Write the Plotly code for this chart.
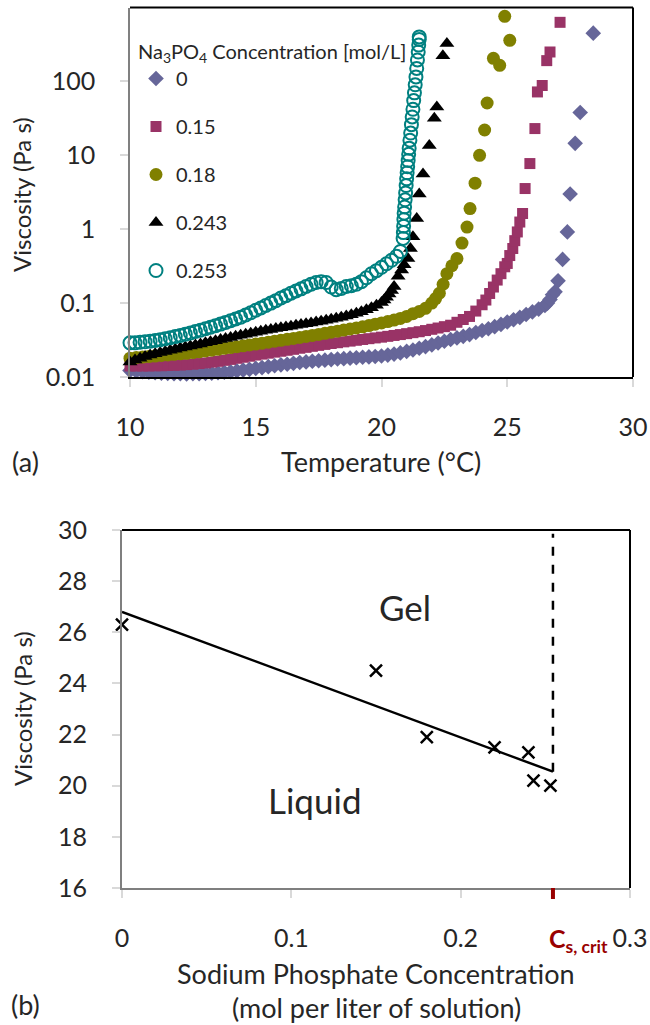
import plotly.graph_objects as go

# ---------------- Panel (a) data: viscosity vs temperature ----------------
conc_labels = ["0", "0.15", "0.18", "0.243", "0.253"]

t_0 = [10.0, 10.25, 10.5, 10.75, 11.0, 11.25, 11.5, 11.75, 12.0, 12.25, 12.5, 12.75,
       13.0, 13.25, 13.5, 13.75, 14.0, 14.25, 14.5, 14.75, 15.0, 15.25, 15.5, 15.75,
       16.0, 16.25, 16.5, 16.75, 17.0, 17.25, 17.5, 17.75, 18.0, 18.25, 18.5, 18.75,
       19.0, 19.25, 19.5, 19.75, 20.0, 20.25, 20.5, 20.75, 21.0, 21.25, 21.5, 21.75,
       22.0, 22.25, 22.5, 22.75, 23.0, 23.25, 23.5, 23.75, 24.0, 24.25, 24.5, 24.75,
       25.0, 25.25, 25.5, 25.75, 26.0, 26.25, 26.5, 26.6, 26.7, 26.8,
       26.9, 27.02, 27.2, 27.39, 27.5, 27.7, 27.9, 28.42]
v_0 = [0.0122, 0.0120, 0.0118, 0.0116, 0.0114, 0.0113, 0.0112, 0.0111, 0.0111, 0.0110,
       0.0111, 0.0111, 0.0112, 0.0113, 0.0114, 0.0116, 0.0118, 0.0121, 0.0124, 0.0127,
       0.0131, 0.0134, 0.0138, 0.0142, 0.0146, 0.0149, 0.0153, 0.0157, 0.0160, 0.0163,
       0.0166, 0.0169, 0.0172, 0.0175, 0.0177, 0.0180, 0.0182, 0.0185, 0.0187, 0.0189,
       0.0192, 0.0198, 0.0204, 0.0212, 0.0222, 0.0232, 0.0245, 0.0258, 0.0272, 0.0288,
       0.0305, 0.0322, 0.0338, 0.0355, 0.0375, 0.0400, 0.0425, 0.0450, 0.0480, 0.0515,
       0.0555, 0.0595, 0.0640, 0.0700, 0.0760, 0.0830, 0.0930, 0.1000, 0.1120, 0.1300,
       0.142, 0.200, 0.390, 0.920, 3.0, 14.5, 38.0, 450.0]

t_015 = [10.0, 10.25, 10.5, 10.75, 11.0, 11.25, 11.5, 11.75, 12.0, 12.25, 12.5, 12.75,
         13.0, 13.25, 13.5, 13.75, 14.0, 14.25, 14.5, 14.75, 15.0, 15.25, 15.5, 15.75,
         16.0, 16.25, 16.5, 16.75, 17.0, 17.25, 17.5, 17.75, 18.0, 18.25, 18.5, 18.75,
         19.0, 19.25, 19.5, 19.75, 20.0, 20.25, 20.5, 20.75, 21.0, 21.25, 21.5, 21.75,
         22.0, 22.25, 22.5, 22.75, 23.0, 23.25, 23.5, 23.75, 24.0, 24.15, 24.3, 24.45,
         24.6, 24.75, 24.9, 25.0, 25.1, 25.22, 25.3, 25.4, 25.5, 25.61, 25.71, 25.9,
         26.1, 26.2, 26.39, 26.57, 26.7, 27.1]
v_015 = [0.0141, 0.0141, 0.0141, 0.0141, 0.0142, 0.0142, 0.0143, 0.0144, 0.0145, 0.0147,
         0.0149, 0.0152, 0.0155, 0.0159, 0.0163, 0.0168, 0.0173, 0.0179, 0.0185, 0.0191,
         0.0198, 0.0204, 0.0210, 0.0217, 0.0223, 0.0230, 0.0237, 0.0245, 0.0252, 0.0260,
         0.0268, 0.0276, 0.0284, 0.0291, 0.0299, 0.0306, 0.0314, 0.0322, 0.0330, 0.0338,
         0.0346, 0.0355, 0.0365, 0.0375, 0.0386, 0.0398, 0.0410, 0.0425, 0.0442, 0.0460,
         0.0480, 0.0502, 0.0550, 0.0600, 0.0660, 0.0780, 0.0950, 0.110, 0.135, 0.165,
         0.205, 0.250, 0.310, 0.344, 0.440, 0.548, 0.700, 0.918, 1.25, 1.63, 3.55, 7.73,
         23.0, 72.0, 88.0, 191.0, 250.0, 630.0]

t_018 = [10.0, 10.25, 10.5, 10.75, 11.0, 11.25, 11.5, 11.75, 12.0, 12.25, 12.5, 12.75,
         13.0, 13.25, 13.5, 13.75, 14.0, 14.25, 14.5, 14.75, 15.0, 15.25, 15.5, 15.75,
         16.0, 16.25, 16.5, 16.75, 17.0, 17.25, 17.5, 17.75, 18.0, 18.25, 18.5, 18.75,
         19.0, 19.25, 19.5, 19.75, 20.0, 20.25, 20.5, 20.75, 21.0, 21.25, 21.5, 21.75,
         22.0, 22.15, 22.3, 22.45, 22.6, 22.8, 23.0, 23.2, 23.4, 23.52, 23.72, 23.9,
         24.1, 24.2, 24.45, 24.7, 24.9, 25.1]
v_018 = [0.0180, 0.0183, 0.0186, 0.0189, 0.0192, 0.0196, 0.0199, 0.0203, 0.0206, 0.0209,
         0.0214, 0.0219, 0.0225, 0.0231, 0.0237, 0.0244, 0.0250, 0.0257, 0.0264, 0.0271,
         0.0279, 0.0287, 0.0296, 0.0305, 0.0314, 0.0323, 0.0333, 0.0343, 0.0354, 0.0365,
         0.0377, 0.0390, 0.0403, 0.0417, 0.0431, 0.0446, 0.0461, 0.0478, 0.0497, 0.0518,
         0.0540, 0.0563, 0.0590, 0.0620, 0.0660, 0.0720, 0.0770, 0.0850, 0.100, 0.115,
         0.136, 0.180, 0.250, 0.320, 0.400, 0.650, 1.07, 1.9, 4.2, 10.0, 22.0, 51.0,
         205.0, 165.0, 760.0, 360.0]

t_0243 = [10.0, 10.2, 10.4, 10.6, 10.8, 11.0, 11.2, 11.4, 11.6, 11.8, 12.0, 12.2, 12.4,
          12.6, 12.8, 13.0, 13.2, 13.4, 13.6, 13.8, 14.0, 14.2, 14.4, 14.6, 14.8, 15.0,
          15.2, 15.4, 15.6, 15.8, 16.0, 16.2, 16.4, 16.6, 16.8, 17.0, 17.2, 17.4, 17.6,
          17.8, 18.0, 18.2, 18.4, 18.6, 18.8, 19.0, 19.2, 19.4, 19.6, 19.8, 20.0, 20.1,
          20.2, 20.3, 20.4, 20.5, 20.66, 20.8, 20.9, 21.05, 21.15, 21.25, 21.4, 21.5,
          21.65, 21.9, 22.1, 22.2, 22.44, 22.6]
v_0243 = [0.0160, 0.0170, 0.0180, 0.0190, 0.0198, 0.0206, 0.0214, 0.0222, 0.0230, 0.0238,
          0.0246, 0.0254, 0.0262, 0.0271, 0.0280, 0.0290, 0.0300, 0.0310, 0.0321, 0.0332,
          0.0343, 0.0355, 0.0367, 0.0379, 0.0391, 0.0404, 0.0416, 0.0428, 0.0440, 0.0452,
          0.0464, 0.0476, 0.0488, 0.0500, 0.0513, 0.0526, 0.0540, 0.0555, 0.0570, 0.0586,
          0.0603, 0.0622, 0.0643, 0.0667, 0.0695, 0.0727, 0.0765, 0.0810, 0.0865, 0.0935,
          0.102, 0.110, 0.120, 0.133, 0.148, 0.168, 0.230, 0.280, 0.330, 0.400, 0.550,
          0.790, 1.4, 3.0, 5.6, 13.6, 31.6, 45.0, 222.0, 325.0]

t_0253 = [10.0, 10.2, 10.4, 10.6, 10.8, 11.0, 11.2, 11.4, 11.6, 11.8, 12.0, 12.2, 12.4,
          12.6, 12.8, 13.0, 13.2, 13.4, 13.6, 13.8, 14.0, 14.2, 14.4, 14.6, 14.8, 15.0,
          15.2, 15.4, 15.6, 15.8, 16.0, 16.2, 16.4, 16.6, 16.8, 17.0, 17.2, 17.4, 17.6,
          17.8, 18.0, 18.2, 18.4, 18.6, 18.8, 19.0, 19.2, 19.4, 19.6, 19.8, 20.0, 20.2,
          20.4, 20.6, 20.75, 20.86, 20.87, 20.88, 20.89, 20.9, 20.92, 20.94, 20.96, 20.98,
          21.0, 21.02, 21.04, 21.06, 21.08, 21.1, 21.13, 21.16, 21.19, 21.22, 21.25, 21.28,
          21.31, 21.34, 21.37, 21.4, 21.43, 21.46, 21.48, 21.5, 21.5]
v_0253 = [0.0290, 0.0290, 0.0295, 0.0300, 0.0305, 0.0312, 0.0320, 0.0330, 0.0340, 0.0352,
          0.0365, 0.0380, 0.0395, 0.0412, 0.0430, 0.0450, 0.0472, 0.0495, 0.0520, 0.0548,
          0.0578, 0.0610, 0.0645, 0.0690, 0.0740, 0.0800, 0.0860, 0.0930, 0.100, 0.108,
          0.117, 0.126, 0.136, 0.146, 0.156, 0.168, 0.180, 0.190, 0.195, 0.190, 0.165,
          0.152, 0.158, 0.168, 0.172, 0.180, 0.195, 0.220, 0.250, 0.275, 0.305, 0.340,
          0.380, 0.430, 0.500, 0.750, 0.90, 1.10, 1.35, 1.65, 2.0, 2.5, 3.1, 3.9, 4.8,
          5.8, 7.0, 8.5, 10.3, 12.5, 16.0, 20.0, 26.0, 33.0, 42.0, 55.0, 70.0, 90.0,
          115.0, 150.0, 195.0, 250.0, 310.0, 370.0, 400.0]

temp_ticks = [10, 15, 20, 25, 30]
visc_ticks = [0.01, 0.1, 1, 10, 100]
visc_tick_text = ["0.01", "0.1", "1", "10", "100"]

# ---------------- Panel (b) data: gel point vs concentration ----------------
salt_conc = [0.0, 0.15, 0.18, 0.22, 0.24, 0.243, 0.253]
gel_visc = [26.3, 24.5, 21.9, 21.5, 21.3, 20.2, 20.0]
CS_CRIT = 0.2545
fit_x = [0.0, CS_CRIT]
fit_y = [26.8, 20.55]
crit_x = [CS_CRIT, CS_CRIT]
crit_y = [20.55, 29.85]
conc_ticks = [0, 0.1, 0.2, 0.3]
conc_tick_text = ["0", "0.1", "0.2", "0.3"]
gel_ticks = [16, 18, 20, 22, 24, 26, 28, 30]

# ---------------- Styling ----------------
FONT = "Lato"
TXT = "#262626"
W, H = 650, 1025

def py(px):
    return min(1.0, max(0.0, 1 - px / H))

def px_x(px):
    return min(1.0, max(0.0, px / W))

fig = go.Figure()

series = [
    (t_0, v_0, "0", dict(symbol="diamond", size=12, color="#666699")),
    (t_015, v_015, "0.15", dict(symbol="square", size=11, color="#993366")),
    (t_018, v_018, "0.18", dict(symbol="circle", size=13, color="#808000")),
    (t_0243, v_0243, "0.243", dict(symbol="triangle-up", size=13, color="#000000")),
    (t_0253, v_0253, "0.253", dict(symbol="circle-open", size=13, color="#008080",
                                   line=dict(color="#008080", width=2))),
]
for i, (tx, vy, name, mk) in enumerate(series):
    fig.add_trace(go.Scatter(
        x=tx, y=vy, mode="markers", name=name, marker=mk,
        legendgroup="g%d" % i, cliponaxis=False, xaxis="x", yaxis="y",
    ))

fig.add_trace(go.Scatter(
    x=fit_x, y=fit_y, mode="lines", line=dict(color="black", width=2.5),
    showlegend=False, xaxis="x2", yaxis="y2", cliponaxis=False))
fig.add_trace(go.Scatter(
    x=crit_x, y=crit_y, mode="lines", line=dict(color="black", width=2.5, dash="dash"),
    showlegend=False, xaxis="x2", yaxis="y2", cliponaxis=False))
fig.add_trace(go.Scatter(
    x=salt_conc, y=gel_visc, mode="markers",
    marker=dict(symbol="x-thin", size=12, line=dict(color="black", width=2.5)),
    showlegend=False, xaxis="x2", yaxis="y2", cliponaxis=False))

tick_common = dict(ticks="outside", ticklen=8, tickwidth=1.5, tickcolor="#d9d9d9",
                   showgrid=False, zeroline=False, automargin=False,
                   ticklabeloverflow="allow",
                   tickfont=dict(family=FONT, size=25, color=TXT))

fig.update_layout(
    width=W, height=H,
    margin=dict(l=0, r=0, t=0, b=0, pad=0, autoexpand=False),
    paper_bgcolor="white", plot_bgcolor="white",
    font=dict(family=FONT, color=TXT),
    xaxis=dict(domain=[px_x(130), px_x(633)], range=[10, 30], tickvals=temp_ticks,
               anchor="y", showline=True, linecolor="#000000", linewidth=2,
               ticklabelstandoff=19, **tick_common),
    yaxis=dict(domain=[py(377), py(7.5)], type="log", range=[-2, 3], tickvals=visc_ticks,
               ticktext=visc_tick_text, anchor="x", showline=True, linecolor="#808080",
               linewidth=1.5, ticklabelstandoff=20, **tick_common),
    xaxis2=dict(domain=[px_x(122), px_x(630)], range=[0, 0.3], tickvals=conc_ticks,
                ticktext=conc_tick_text, anchor="y2", showline=True, linecolor="#7f7f7f",
                linewidth=2, ticklabelstandoff=19, **tick_common),
    yaxis2=dict(domain=[py(888), py(530)], range=[16, 30], tickvals=gel_ticks,
                anchor="x2", showline=True, linecolor="#7f7f7f", linewidth=2,
                ticklabelstandoff=20, **tick_common),
    showlegend=True,
    legend=dict(
        x=px_x(136), y=py(33), xanchor="left", yanchor="top",
        bgcolor="rgba(0,0,0,0)", tracegroupgap=19,
        font=dict(family=FONT, size=20, color=TXT),
        title=dict(text="Na<sub>3</sub>PO<sub>4</sub> Concentration [mol/L]",
                   font=dict(family=FONT, size=20, color=TXT)),
    ),
)

# frame lines (top/right black)
for xr, yr in (("x domain", "y domain"), ("x2 domain", "y2 domain")):
    fig.add_shape(type="line", xref=xr, yref=yr, x0=0, x1=1, y0=1, y1=1,
                  line=dict(color="black", width=2))
    fig.add_shape(type="line", xref=xr, yref=yr, x0=1, x1=1, y0=0, y1=1,
                  line=dict(color="black", width=2))

# red critical-concentration tick
fig.add_shape(type="line", xref="x2", yref="paper", x0=CS_CRIT, x1=CS_CRIT,
              y0=py(888), y1=py(899), line=dict(color="#990000", width=4))

ann = [
    dict(text="Viscosity (Pa s)", x=px_x(22), y=py(195), textangle=-90, size=24),
    dict(text="Temperature (°C)", x=px_x(381), y=py(462), size=27),
    dict(text="(a)", x=px_x(25), y=py(462), size=27),
    dict(text="Viscosity (Pa s)", x=px_x(22), y=py(709), textangle=-90, size=24),
    dict(text="Sodium Phosphate Concentration", x=px_x(376), y=py(973), size=27),
    dict(text="(mol per liter of solution)", x=px_x(376), y=py(1007), size=27),
    dict(text="(b)", x=px_x(25), y=py(1004), size=27),
]
for a in ann:
    fig.add_annotation(text=a["text"], x=a["x"], y=a["y"], xref="paper", yref="paper",
                       showarrow=False, textangle=a.get("textangle", 0),
                       xanchor="center", yanchor="middle",
                       font=dict(family=FONT, size=a["size"], color=TXT))

fig.add_annotation(text="Gel", x=0.167, y=27.0, xref="x2", yref="y2", showarrow=False,
                   font=dict(family=FONT, size=35, color=TXT))
fig.add_annotation(text="Liquid", x=0.114, y=19.45, xref="x2", yref="y2", showarrow=False,
                   font=dict(family=FONT, size=35, color=TXT))
fig.add_annotation(text="<b>C<sub>s, crit</sub></b>", x=CS_CRIT, y=py(940), xref="x2",
                   yref="paper", xanchor="left", yanchor="middle", xshift=-6,
                   showarrow=False, font=dict(family=FONT, size=25, color="#990000"))

# remove the default page margin so the 650x1025 figure fills the window exactly
fig.write_html("out.html",
               config={"displayModeBar": False},
               post_script="document.body.style.margin='0px';"
                           "document.body.style.overflow='hidden';")
